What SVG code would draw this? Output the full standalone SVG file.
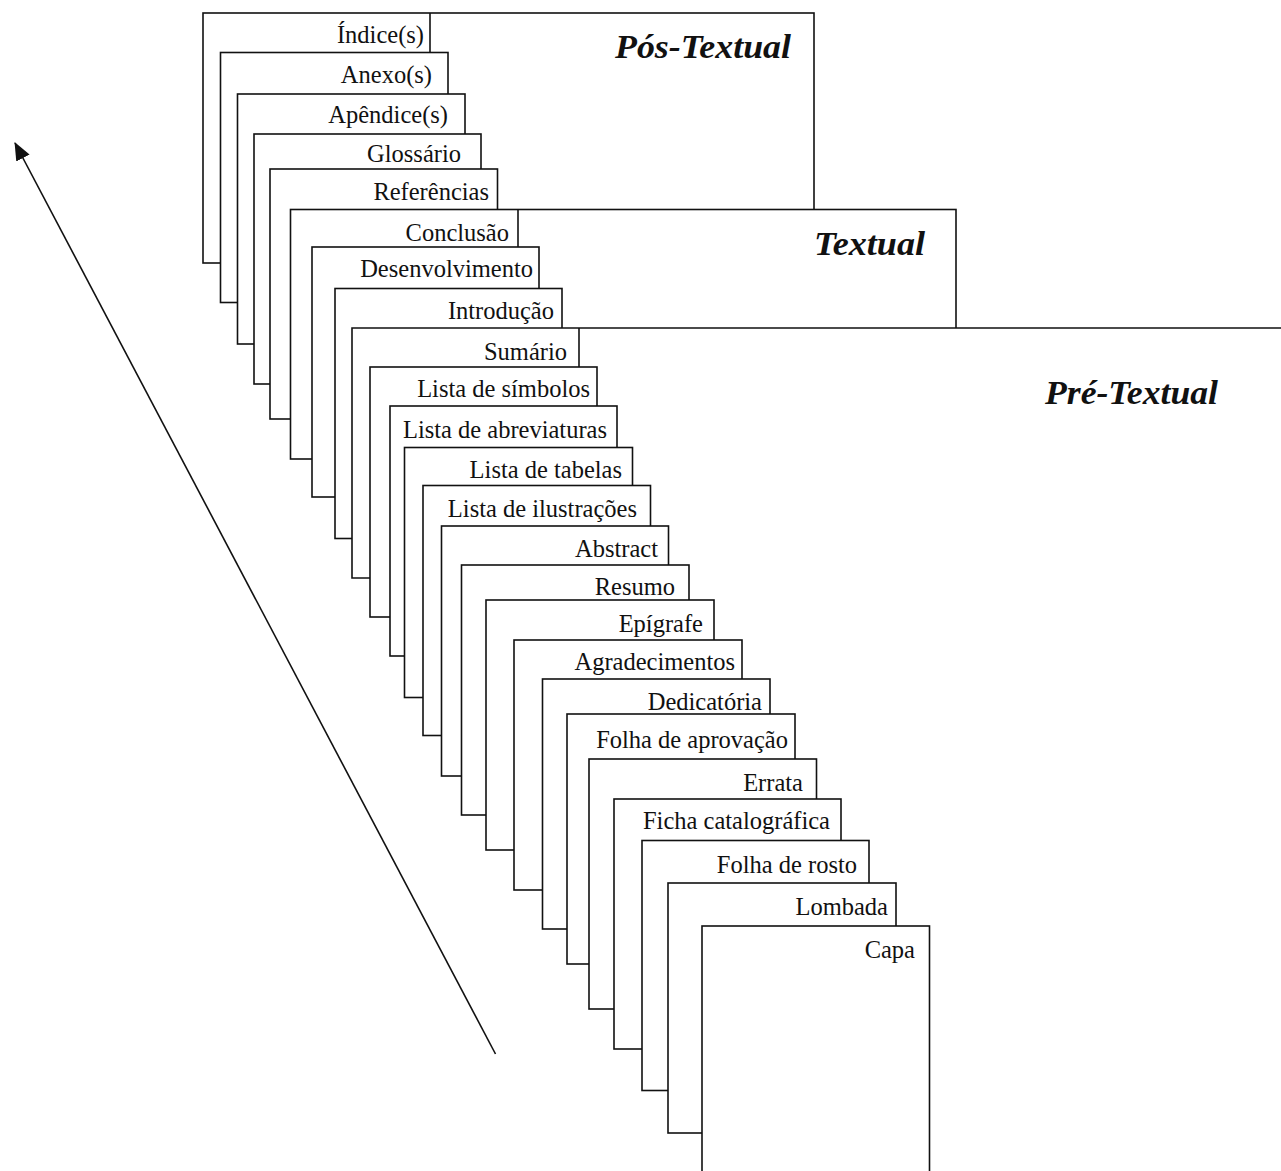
<svg xmlns="http://www.w3.org/2000/svg" width="1281" height="1171" viewBox="0 0 1281 1171">
<style>
.pg{fill:#fff;stroke:#111;stroke-width:1.6}
.ln{fill:none;stroke:#111;stroke-width:1.6}
.lb{font-family:"Liberation Serif","Times New Roman",serif;font-size:24.5px;fill:#111;text-anchor:end}
.sec{font-family:"Liberation Serif","Times New Roman",serif;font-size:34px;font-weight:bold;font-style:italic;fill:#111}
</style>
<defs>
<marker id="ah" markerWidth="18" markerHeight="15" refX="17" refY="7.5" orient="auto" markerUnits="userSpaceOnUse">
<path d="M0,0 L18,7.5 L0,15 Z" fill="#111"/>
</marker>
</defs>
<rect width="1281" height="1171" fill="#fff"/>

<g id="pos-textual">
<rect class="pg" x="203" y="13" width="611" height="250"/>
<line class="ln" x1="430" y1="13" x2="430" y2="53"/>
<text class="lb" x="424" y="43">Índice(s)</text>
<text class="sec" x="615" y="58" textLength="176" lengthAdjust="spacingAndGlyphs">Pós-Textual</text>
</g>
<g id="anexos"><rect class="pg" x="220.5" y="52.5" width="227.5" height="250"/><text class="lb" x="432" y="83">Anexo(s)</text></g>
<g id="apendices"><rect class="pg" x="237.5" y="94" width="227.5" height="250"/><text class="lb" x="448" y="123">Apêndice(s)</text></g>
<g id="glossario"><rect class="pg" x="254" y="134" width="227" height="250"/><text class="lb" x="461" y="162">Glossário</text></g>
<g id="referencias"><rect class="pg" x="270" y="169" width="227.5" height="250"/><text class="lb" x="489" y="200">Referências</text></g>

<g id="textual">
<rect class="pg" x="290.5" y="209.5" width="665.5" height="249.5"/>
<line class="ln" x1="518" y1="209.5" x2="518" y2="247"/>
<text class="lb" x="509" y="240.5">Conclusão</text>
<text class="sec" x="814" y="255" textLength="111" lengthAdjust="spacingAndGlyphs">Textual</text>
</g>
<g id="desenvolvimento"><rect class="pg" x="312" y="247" width="227" height="250"/><text class="lb" x="533" y="277">Desenvolvimento</text></g>
<g id="introducao"><rect class="pg" x="335" y="288.5" width="227" height="250"/><text class="lb" x="554" y="318.5">Introdução</text></g>

<g id="pre-textual">
<rect x="352" y="328" width="940" height="860" fill="#fff"/>
<path class="ln" d="M370,578 H352 V328 H1290"/>
<line class="ln" x1="579" y1="328" x2="579" y2="367"/>
<text class="lb" x="567" y="360">Sumário</text>
<text class="sec" x="1045" y="404" textLength="173" lengthAdjust="spacingAndGlyphs">Pré-Textual</text>
</g>
<g id="lista-simbolos"><rect class="pg" x="370" y="367" width="227" height="250"/><text class="lb" x="590" y="397">Lista de símbolos</text></g>
<g id="lista-abreviaturas"><rect class="pg" x="390" y="406" width="227" height="250"/><text class="lb" x="607" y="437.5">Lista de abreviaturas</text></g>
<g id="lista-tabelas"><rect class="pg" x="404.5" y="447.5" width="228" height="250"/><text class="lb" x="622" y="478">Lista de tabelas</text></g>
<g id="lista-ilustracoes"><rect class="pg" x="423" y="485.5" width="227.5" height="250"/><text class="lb" x="637" y="517">Lista de ilustrações</text></g>
<g id="abstract"><rect class="pg" x="441.5" y="526" width="227" height="250"/><text class="lb" x="658" y="557">Abstract</text></g>
<g id="resumo"><rect class="pg" x="461.5" y="565" width="227.5" height="250"/><text class="lb" x="675" y="595">Resumo</text></g>
<g id="epigrafe"><rect class="pg" x="486" y="600" width="228" height="250"/><text class="lb" x="703" y="631.5">Epígrafe</text></g>
<g id="agradecimentos"><rect class="pg" x="514" y="640" width="228" height="250"/><text class="lb" x="735" y="670">Agradecimentos</text></g>
<g id="dedicatoria"><rect class="pg" x="542.5" y="679" width="227.5" height="250"/><text class="lb" x="762" y="710">Dedicatória</text></g>
<g id="folha-aprovacao"><rect class="pg" x="567" y="714" width="228" height="250"/><text class="lb" x="788" y="748">Folha de aprovação</text></g>
<g id="errata"><rect class="pg" x="589" y="759" width="227.5" height="250"/><text class="lb" x="803" y="790.5">Errata</text></g>
<g id="ficha-catalografica"><rect class="pg" x="614" y="799" width="227" height="250"/><text class="lb" x="830" y="828.5">Ficha catalográfica</text></g>
<g id="folha-rosto"><rect class="pg" x="642" y="840.5" width="227" height="250"/><text class="lb" x="857" y="873">Folha de rosto</text></g>
<g id="lombada"><rect class="pg" x="668" y="883" width="228" height="250"/><text class="lb" x="888" y="915">Lombada</text></g>
<g id="capa"><rect class="pg" x="702" y="926" width="227.5" height="260"/><text class="lb" x="915" y="958">Capa</text></g>

<g id="connectors">
<line x1="495.5" y1="1054" x2="15" y2="143" stroke="#111" stroke-width="1.6" marker-end="url(#ah)"/>
</g>
</svg>
